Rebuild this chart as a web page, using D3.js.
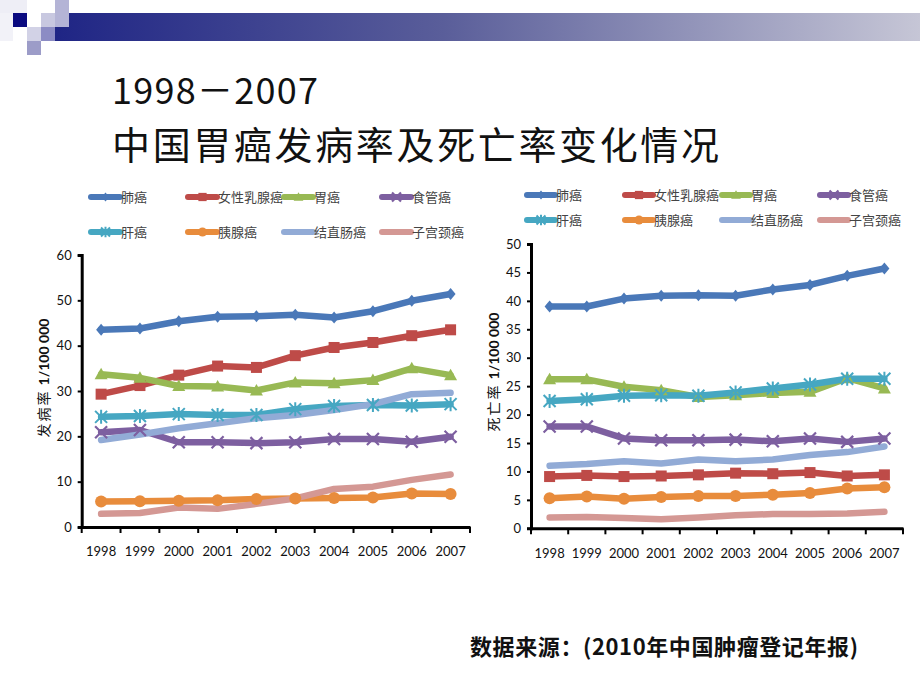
<!DOCTYPE html>
<html><head><meta charset="utf-8">
<script src="https://cdn.jsdelivr.net/npm/d3@7/dist/d3.min.js"></script>
<style>body{margin:0;background:#fff}svg{display:block}</style>
</head><body>
<svg id="c" width="920" height="690"></svg>
<script>
const years = ["1998","1999","2000","2001","2002","2003","2004","2005","2006","2007"];
const seriesNames = ["肺癌","女性乳腺癌","胃癌","食管癌","肝癌","胰腺癌","结直肠癌","子宫颈癌"];
const seriesColors = ["#4a78b8","#be4b48","#98b954","#7d5fa0","#46a7c2","#e88c3c","#92abd6","#d49894"];
const seriesMarkers = ["diamond","square","triangle","x","star","circle","none","none"];

// 发病率 (incidence) 1/100 000
const incLung      = [43.5,43.8,45.4,46.4,46.5,46.8,46.2,47.6,49.9,51.4];
const incBreast    = [29.3,31.2,33.5,35.5,35.2,37.8,39.6,40.7,42.2,43.5];
const incStomach   = [33.7,32.9,31.1,31.0,30.1,31.9,31.7,32.4,35.0,33.5];
const incEsophagus = [20.9,21.4,18.7,18.7,18.5,18.7,19.4,19.4,18.8,19.9];
const incLiver     = [24.3,24.5,24.9,24.7,24.7,26.0,26.7,26.9,26.8,27.1];
const incPancreas  = [5.6,5.7,5.8,5.9,6.2,6.3,6.4,6.5,7.4,7.3];
const incColorectal= [19.2,20.4,21.8,22.9,24.0,24.7,25.8,27.1,29.3,29.6];
const incCervix    = [2.9,3.1,4.3,4.0,5.1,6.3,8.4,8.9,10.4,11.6];

// 死亡率 (mortality) 1/100 000
const morLung      = [39.0,39.0,40.4,40.9,41.0,40.9,42.0,42.8,44.4,45.7];
const morBreast    = [9.1,9.3,9.1,9.2,9.4,9.7,9.6,9.8,9.2,9.4];
const morStomach   = [26.2,26.2,24.9,24.3,23.1,23.4,23.8,24.0,26.4,24.6];
const morEsophagus = [17.9,17.9,15.8,15.5,15.5,15.6,15.3,15.8,15.2,15.8];
const morLiver     = [22.4,22.7,23.3,23.4,23.3,23.9,24.6,25.3,26.3,26.3];
const morPancreas  = [5.3,5.6,5.2,5.5,5.7,5.7,5.9,6.2,7.0,7.2];
const morColorectal= [11.0,11.3,11.8,11.4,12.1,11.8,12.1,12.9,13.4,14.4];
const morCervix    = [1.9,2.0,1.8,1.6,1.9,2.3,2.5,2.5,2.6,2.9];

const incTicks = [0,10,20,30,40,50,60];
const morTicks = [0,5,10,15,20,25,30,35,40,45,50];

const incData = [incLung,incBreast,incStomach,incEsophagus,incLiver,incPancreas,incColorectal,incCervix];
const morData = [morLung,morBreast,morStomach,morEsophagus,morLiver,morPancreas,morColorectal,morCervix];

const svg = d3.select("#c");
const numFont = "Lato, 'Open Sans', sans-serif";
const cjk = "'Noto Sans CJK SC', sans-serif";

// ---- header decoration ----
const deco = svg.append("g");
const grad = svg.append("defs").append("linearGradient").attr("id","bar").attr("x1","0").attr("x2","1");
grad.append("stop").attr("offset","0").attr("stop-color","#1f2585");
grad.append("stop").attr("offset","0.45").attr("stop-color","#5a5e9a");
grad.append("stop").attr("offset","1").attr("stop-color","#c6c6d6");
deco.append("rect").attr("x",55).attr("y",13).attr("width",865).attr("height",28).attr("fill","url(#bar)");
const sq = [
  [0,0,27,13,"#eeeef6"],[13,13,14,14,"#0a0a80"],[41,13,14,14,"#c8c8e0"],[55,0,14,27,"#b4b4d6"],
  [27,27,14,14,"#d2d2e6"],[41,27,14,14,"#8c8cc4"],[27,41,14,14,"#9c9cc8"],[0,13,13,28,"#f2f2f8"]
];
sq.forEach(s=>deco.append("rect").attr("x",s[0]).attr("y",s[1]).attr("width",s[2]).attr("height",s[3]).attr("fill",s[4]));

// ---- title ----
svg.append("text").attr("x",112).attr("y",104).attr("font-family",cjk).attr("font-size",36).attr("fill","#111").attr("textLength",206).text("1998－2007");
svg.append("text").attr("x",112).attr("y",159).attr("font-family",cjk).attr("font-size",38).attr("fill","#111").attr("textLength",607).text("中国胃癌发病率及死亡率变化情况");

// ---- source ----
svg.append("text").attr("x",470).attr("y",655).attr("font-family",cjk).attr("font-weight","bold").attr("font-size",22).attr("fill","#111").attr("textLength",388).text("数据来源：(2010年中国肿瘤登记年报)");

// ---- marker drawing ----
function marker(g, type, cx, cy, color, s) {
  s = s || 1;
  if (type === "diamond") {
    g.append("path").attr("d",`M${cx},${cy-6*s}L${cx+5*s},${cy}L${cx},${cy+6*s}L${cx-5*s},${cy}Z`).attr("fill",color);
  } else if (type === "square") {
    g.append("rect").attr("x",cx-5.5*s).attr("y",cy-5.5*s).attr("width",11*s).attr("height",11*s).attr("fill",color);
  } else if (type === "triangle") {
    g.append("path").attr("d",`M${cx},${cy-6.5*s}L${cx+6.5*s},${cy+5*s}L${cx-6.5*s},${cy+5*s}Z`).attr("fill",color);
  } else if (type === "circle") {
    g.append("circle").attr("cx",cx).attr("cy",cy).attr("r",6*s).attr("fill",color);
  } else if (type === "x") {
    g.append("path").attr("d",`M${cx-6*s},${cy-6*s}L${cx+6*s},${cy+6*s}M${cx+6*s},${cy-6*s}L${cx-6*s},${cy+6*s}`).attr("stroke",color).attr("stroke-width",2.2);
  } else if (type === "star") {
    g.append("path").attr("d",`M${cx-6*s},${cy-6*s}L${cx+6*s},${cy+6*s}M${cx+6*s},${cy-6*s}L${cx-6*s},${cy+6*s}M${cx},${cy-7*s}L${cx},${cy+7*s}`).attr("stroke",color).attr("stroke-width",2);
  }
}

// ---- chart builder ----
function chart(cfg) {
  const g = svg.append("g");
  const x = d3.scaleBand().domain(years).range([cfg.x0, cfg.x1]).padding(0);
  const y = d3.scaleLinear().domain([0, cfg.ymax]).range([cfg.y0, cfg.y1]);
  const cx = d => x(d) + x.bandwidth()/2;

  // legend
  seriesNames.forEach((name,i)=>{
    const lx = cfg.legX[i%4], ly = cfg.legY[Math.floor(i/4)];
    const lg = g.append("g");
    lg.append("line").attr("x1",lx).attr("x2",lx+cfg.legW).attr("y1",ly).attr("y2",ly)
      .attr("stroke",seriesColors[i]).attr("stroke-width",6).attr("stroke-linecap","round");
    marker(lg, seriesMarkers[i], lx+cfg.legW/2, ly, seriesColors[i], 0.75);
    lg.append("text").attr("x",lx+cfg.legW+1).attr("y",ly+5).attr("font-family",cjk).attr("font-size",13)
      .attr("fill","#444").text(name);
  });

  // series
  const line = d3.line().x((d,i)=>cx(years[i])).y(d=>y(d));
  cfg.data.forEach((vals,i)=>{
    g.append("path").datum(vals).attr("d",line).attr("fill","none")
      .attr("stroke",seriesColors[i]).attr("stroke-width",cfg.lw)
      .attr("stroke-linejoin","round").attr("stroke-linecap","round");
  });
  cfg.data.forEach((vals,i)=>{
    vals.forEach((v,j)=>marker(g, seriesMarkers[i], cx(years[j]), y(v), seriesColors[i], 1));
  });

  // y axis
  const ya = g.append("g").attr("transform",`translate(${cfg.x0},0)`)
    .call(d3.axisLeft(y).tickValues(cfg.ticks).tickSize(4).tickPadding(6).tickFormat(d3.format("d")));
  ya.select(".domain").attr("stroke","#000").attr("stroke-width",3);
  ya.selectAll(".tick line").attr("stroke","#000").attr("stroke-width",2);
  ya.selectAll("text").attr("font-family",numFont).attr("font-size",13).attr("fill","#111");

  // x axis
  const xa = g.append("g").attr("transform",`translate(0,${cfg.y0})`)
    .call(d3.axisBottom(x).tickSize(0).tickPadding(20));
  xa.select(".domain").attr("stroke","#000").attr("stroke-width",3);
  xa.selectAll("text").attr("font-family",numFont).attr("font-size",13).attr("fill","#111");
  const bounds = years.map(d=>x(d)).concat([cfg.x1]);
  xa.selectAll(".btick").data(bounds).enter().append("line").attr("class","btick")
    .attr("x1",d=>d).attr("x2",d=>d).attr("y1",0).attr("y2",6).attr("stroke","#000").attr("stroke-width",2);

  // y title
  const t = g.append("text").attr("transform",`translate(${cfg.titleX},${cfg.titleY}) rotate(-90)`)
    .attr("text-anchor","middle").attr("fill","#111");
  t.append("tspan").attr("font-family",cjk).attr("font-size",14).attr("letter-spacing",2).text(cfg.title);
  t.append("tspan").attr("font-family",numFont).attr("font-weight","bold").attr("font-size",14).attr("dx",4).text("1/100 000");
}

chart({x0:81.7, x1:470, y0:527, y1:255, ymax:60, ticks:incTicks, data:incData, lw:6.5,
  legX:[91,188,284,382], legY:[197,232], legW:29, title:"发病率", titleX:49, titleY:378});
chart({x0:531, x1:903, y0:528.3, y1:244, ymax:50, ticks:morTicks, data:morData, lw:6.5,
  legX:[527,625,722,820], legY:[195,220], legW:28, title:"死亡率", titleX:499, titleY:372});
</script>
</body></html>
